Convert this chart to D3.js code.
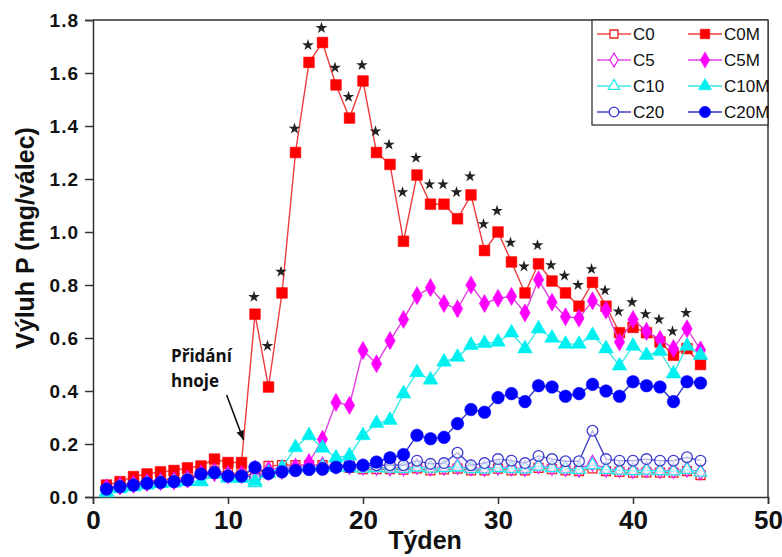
<!DOCTYPE html>
<html><head><meta charset="utf-8">
<script src="https://cdnjs.cloudflare.com/ajax/libs/d3/7.8.5/d3.min.js"></script>
<style>
html,body{margin:0;padding:0;background:#fff;}
svg{display:block;}
</style></head>
<body>
<svg id="chart" width="782" height="557"></svg>
<script>
const weeks = [1,2,3,4,5,6,7,8,9,10,11,12,13,14,15,16,17,18,19,20,21,22,23,24,25,26,27,28,29,30,31,32,33,34,35,36,37,38,39,40,41,42,43,44,45];

const C0  = [0.035,0.045,0.055,0.06,0.065,0.07,0.075,0.09,0.1,0.09,0.09,0.08,0.117,0.12,0.12,0.12,0.12,0.115,0.11,0.105,0.105,0.105,0.103,0.108,0.10,0.104,0.107,0.10,0.10,0.107,0.10,0.10,0.11,0.105,0.10,0.098,0.108,0.098,0.095,0.092,0.093,0.092,0.092,0.098,0.083];
const C5  = [0.032,0.04,0.047,0.053,0.057,0.06,0.066,0.08,0.09,0.082,0.082,0.075,0.105,0.11,0.115,0.12,0.12,0.118,0.115,0.113,0.112,0.11,0.11,0.115,0.11,0.113,0.115,0.11,0.108,0.113,0.11,0.108,0.118,0.112,0.108,0.105,0.128,0.105,0.103,0.1,0.103,0.1,0.1,0.105,0.095];
const C10 = [0.015,0.03,0.038,0.045,0.05,0.053,0.058,0.058,0.085,0.07,0.07,0.053,0.095,0.105,0.11,0.112,0.115,0.112,0.11,0.108,0.11,0.108,0.107,0.112,0.108,0.11,0.112,0.106,0.105,0.11,0.107,0.105,0.115,0.11,0.105,0.103,0.12,0.103,0.1,0.098,0.1,0.098,0.097,0.103,0.093];
const C20 = [0.03,0.04,0.046,0.053,0.056,0.06,0.065,0.085,0.09,0.08,0.08,0.075,0.09,0.095,0.10,0.105,0.11,0.115,0.125,0.12,0.12,0.12,0.12,0.137,0.125,0.128,0.167,0.12,0.128,0.143,0.137,0.128,0.155,0.143,0.135,0.135,0.25,0.143,0.137,0.137,0.143,0.137,0.137,0.15,0.137];
const C0M = [0.045,0.058,0.077,0.087,0.095,0.10,0.11,0.117,0.143,0.13,0.13,0.69,0.415,0.77,1.30,1.64,1.715,1.555,1.43,1.57,1.30,1.255,0.965,1.215,1.105,1.105,1.05,1.14,0.93,1.0,0.887,0.77,0.88,0.815,0.77,0.72,0.81,0.72,0.62,0.64,0.62,0.585,0.535,0.56,0.50];
const C5M = [0.035,0.042,0.048,0.055,0.058,0.062,0.068,0.088,0.095,0.085,0.085,0.105,0.095,0.10,0.11,0.13,0.218,0.357,0.346,0.553,0.503,0.59,0.67,0.76,0.79,0.73,0.71,0.80,0.73,0.75,0.757,0.695,0.82,0.735,0.68,0.675,0.74,0.705,0.585,0.67,0.625,0.595,0.56,0.635,0.555];
const C10M = [0.02,0.035,0.04,0.048,0.052,0.055,0.06,0.058,0.088,0.075,0.072,0.06,0.09,0.11,0.187,0.232,0.185,0.148,0.156,0.232,0.278,0.29,0.39,0.47,0.442,0.51,0.528,0.573,0.58,0.585,0.62,0.56,0.635,0.60,0.577,0.577,0.61,0.56,0.495,0.57,0.535,0.55,0.465,0.57,0.535];
const C20M = [0.03,0.039,0.045,0.052,0.055,0.058,0.064,0.087,0.092,0.079,0.079,0.112,0.089,0.095,0.10,0.104,0.105,0.112,0.115,0.12,0.132,0.148,0.16,0.233,0.22,0.225,0.277,0.33,0.32,0.375,0.39,0.36,0.42,0.415,0.38,0.39,0.425,0.40,0.38,0.435,0.42,0.415,0.36,0.435,0.43];

const starWeeks  = [12,13,14,15,16,17,18,19,20,21,22,23,24,25,26,27,28,29,30,31,32,33,34,35,36,37,38,39,40,41,42,43,44];
const starValues = [0.755,0.57,0.85,1.39,1.705,1.77,1.62,1.51,1.63,1.38,1.33,1.15,1.28,1.18,1.18,1.15,1.21,1.03,1.08,0.96,0.87,0.95,0.875,0.835,0.80,0.86,0.78,0.70,0.735,0.69,0.67,0.625,0.695];

const xTicks = [0,10,20,30,40,50];
const yTicks = [0,0.2,0.4,0.6,0.8,1.0,1.2,1.4,1.6,1.8];

const xTitle = "Týden";
const yTitle = "Výluh P (mg/válec)";
const annotationLines = ["Přidání","hnoje"];
const arrowFrom = [9.9, 0.385];
const arrowTo = [11.15, 0.215];

const seriesNames = ["C0","C5","C10","C20","C0M","C5M","C10M","C20M"];
const seriesValues = [C0,C5,C10,C20,C0M,C5M,C10M,C20M];
const seriesStyle = {
  C0:  {line:"#f04848", mark:"#ee2222", sym:d3.symbolSquare,   size:80, fill:false},
  C5:  {line:"#e050e0", mark:"#ee22ee", sym:d3.symbolDiamond,  size:70, fill:false},
  C10: {line:"#40eaea", mark:"#22e8e8", sym:d3.symbolTriangle, size:70, fill:false},
  C20: {line:"#4444cc", mark:"#3a3ad0", sym:d3.symbolCircle,   size:90, fill:false},
  C0M: {line:"#ee3c3c", mark:"#ff0000", sym:d3.symbolSquare,   size:115, fill:true},
  C5M: {line:"#e040e0", mark:"#ff00ff", sym:d3.symbolDiamond,  size:95, fill:true},
  C10M:{line:"#38e6e6", mark:"#00f0f0", sym:d3.symbolTriangle, size:95, fill:true},
  C20M:{line:"#3232c8", mark:"#0000ff", sym:d3.symbolCircle,   size:125, fill:true}
};

const W = 782, H = 557;
const m = {left:93, top:20, right:14, bottom:60};
const svg = d3.select("#chart");
const x = d3.scaleLinear().domain([0,50]).range([m.left, W-m.right]);
const y = d3.scaleLinear().domain([0,1.8]).range([H-m.bottom, m.top]);

const axisColor = "#333";
const tickFont = "'Liberation Sans', Arial, sans-serif";

// frame top
svg.append("line").attr("x1",x(0)).attr("x2",x(50)).attr("y1",y(1.8)).attr("y2",y(1.8))
  .attr("stroke",axisColor).attr("stroke-width",1.5);

// x axis
const gx = svg.append("g").attr("transform",`translate(0,${y(0)})`)
  .call(d3.axisBottom(x).tickValues(xTicks).tickSize(7).tickPadding(7).tickFormat(d3.format("d")));
gx.select(".domain").attr("stroke",axisColor).attr("stroke-width",1.5);
gx.selectAll(".tick line").attr("stroke",axisColor).attr("stroke-width",1.5);
gx.selectAll(".tick text").attr("font-family",tickFont).attr("font-weight","bold")
  .attr("font-size",26).attr("fill","#111");

// y axis
const gy = svg.append("g").attr("transform",`translate(${x(0)},0)`)
  .call(d3.axisLeft(y).tickValues(yTicks).tickSize(8).tickPadding(6).tickFormat(d3.format(".1f")));
gy.select(".domain").attr("stroke",axisColor).attr("stroke-width",1.5);
gy.selectAll(".tick line").attr("stroke",axisColor).attr("stroke-width",1.5);
gy.selectAll(".tick text").attr("font-family",tickFont).attr("font-weight","bold")
  .attr("font-size",19).attr("fill","#111").attr("letter-spacing","1px");

// titles
svg.append("text").attr("x",425).attr("y",549).attr("text-anchor","middle")
  .attr("font-family",tickFont).attr("font-weight","bold").attr("font-size",25).attr("fill","#111").text(xTitle);
svg.append("text").attr("transform",`translate(34,238) rotate(-90)`).attr("text-anchor","middle")
  .attr("font-family",tickFont).attr("font-weight","bold").attr("font-size",25).attr("fill","#111").text(yTitle);

// series
const lineGen = d3.line().x((d,i)=>x(weeks[i])).y(d=>y(d));
seriesNames.forEach((name,si)=>{
  const st = seriesStyle[name];
  const vals = seriesValues[si];
  const g = svg.append("g");
  g.append("path").datum(vals).attr("d",lineGen).attr("fill","none")
    .attr("stroke",st.line).attr("stroke-width",1.4);
  g.selectAll("path.pt").data(vals).join("path").attr("class","pt")
    .attr("transform",(d,i)=>`translate(${x(weeks[i])},${y(d)})`)
    .attr("d",d3.symbol().type(st.sym).size(st.size))
    .attr("fill",st.fill?st.mark:"#fff")
    .attr("fill-opacity",st.fill?1:0.6)
    .attr("stroke",st.mark).attr("stroke-width",st.fill?0.5:1.3);
});

// stars
svg.append("g").selectAll("path").data(starValues).join("path")
  .attr("transform",(d,i)=>`translate(${x(starWeeks[i])-1},${y(d)})`)
  .attr("d",d3.symbol().type(d3.symbolStar).size(42))
  .attr("fill","#222");

// annotation
const ann = svg.append("g");
ann.selectAll("text").data(annotationLines).join("text")
  .attr("x",171).attr("y",(d,i)=>362+i*25)
  .attr("font-family","'Open Sans', 'Liberation Sans', sans-serif").attr("font-weight","bold")
  .attr("font-size",17).attr("fill","#111").text(d=>d);
svg.append("defs").append("marker").attr("id","arr").attr("viewBox","0 0 10 10")
  .attr("refX",10).attr("refY",5).attr("markerWidth",6).attr("markerHeight",6)
  .attr("markerUnits","strokeWidth").attr("orient","auto")
  .append("path").attr("d","M0,1 L10,5 L0,9 Z").attr("fill","#111");
ann.append("line").attr("x1",x(arrowFrom[0])).attr("y1",y(arrowFrom[1]))
  .attr("x2",x(arrowTo[0])).attr("y2",y(arrowTo[1]))
  .attr("stroke","#111").attr("stroke-width",1.6).attr("marker-end","url(#arr)");

// right frame
svg.append("line").attr("x1",x(50)).attr("x2",x(50)).attr("y1",y(1.8)).attr("y2",y(0))
  .attr("stroke",axisColor).attr("stroke-width",1.5);

// legend
const lg = svg.append("g");
lg.append("rect").attr("x",592).attr("y",20).attr("width",176).attr("height",105)
  .attr("fill","#fff").attr("stroke",axisColor).attr("stroke-width",1.3);
seriesNames.forEach((name,si)=>{
  const st = seriesStyle[name];
  const col = si<4?0:1, row = si%4;
  const lx = col===0?597:688, ly = 34+row*26;
  const item = lg.append("g");
  item.append("line").attr("x1",lx).attr("x2",lx+34).attr("y1",ly).attr("y2",ly)
    .attr("stroke",st.line).attr("stroke-width",1.4);
  item.append("path").attr("transform",`translate(${lx+17},${ly})`)
    .attr("d",d3.symbol().type(st.sym).size(st.size*0.8))
    .attr("fill",st.fill?st.mark:"#fff").attr("stroke",st.mark).attr("stroke-width",st.fill?0.5:1.3);
  item.append("text").attr("x",lx+36).attr("y",ly+6)
    .attr("font-family",tickFont).attr("font-size",17).attr("fill","#111").text(name);
});
</script>
</body></html>
